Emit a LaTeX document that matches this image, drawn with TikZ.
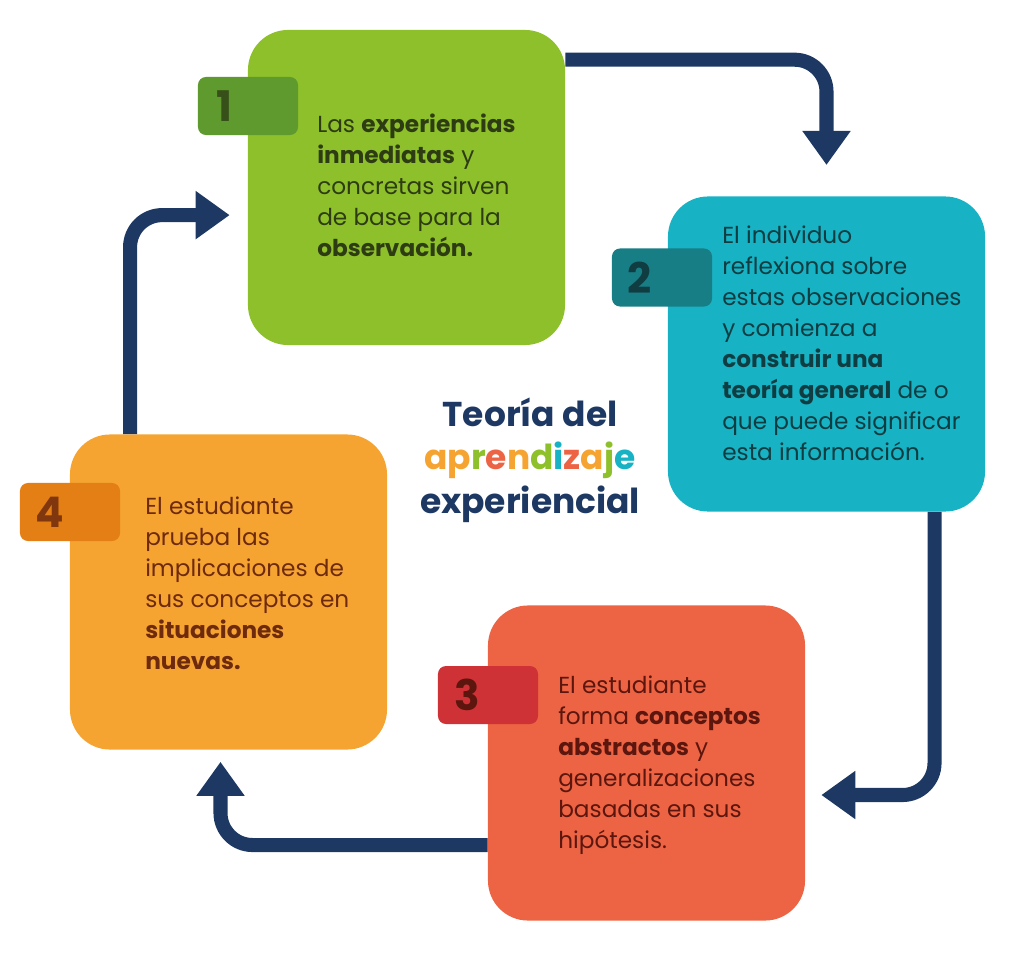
\documentclass[tikz,border=0pt]{standalone}
\usepackage{fontspec}
\setmainfont{Poppins}
\usetikzlibrary{arrows.meta}
\definecolor{navy}{HTML}{1D3862}
\definecolor{cgreen}{HTML}{8DC02A}
\definecolor{cgreenD}{HTML}{5F9A2F}
\definecolor{tgreen}{HTML}{2D3C12}
\definecolor{cteal}{HTML}{17B2C3}
\definecolor{ctealD}{HTML}{187E86}
\definecolor{tteal}{HTML}{0F3D42}
\definecolor{cred}{HTML}{EC6444}
\definecolor{credD}{HTML}{CF3236}
\definecolor{tred}{HTML}{5C160E}
\definecolor{corange}{HTML}{F5A432}
\definecolor{corangeD}{HTML}{E47F15}
\definecolor{torange}{HTML}{6E2A0C}

\begin{document}
\begin{tikzpicture}[x=0.025cm, y=-0.025cm,
        card/.style={rectangle, rounded corners=1cm, minimum width=7.925cm, minimum height=7.875cm, inner sep=0pt},
        badge/.style={rectangle, rounded corners=0.2cm, minimum width=2.5cm, minimum height=1.45cm, inner sep=0pt},
        num/.style={font=\fontsize{30}{30}\selectfont\bfseries, anchor=west},
        txt/.style={anchor=north west, align=left, inner sep=0pt, font=\fontsize{16.5}{22}\selectfont},
        arrow/.style={-{Triangle[width=1.15cm, length=0.85cm]}, line width=10pt, draw=navy, rounded corners=0.8cm}
    ]
        \useasboundingbox (0,0) rectangle (1024,953);
        \node[card, fill=cgreen] (exp) at (406.5,187.5) {};
        \node[card, fill=cteal] (refl) at (826.5,354) {};
        \node[card, fill=cred] (abst) at (646.5,763) {};
        \node[card, fill=corange] (test) at (228.5,592) {};

        \node[badge, fill=cgreenD] (b1) at (248,106) {};
        \node[badge, fill=ctealD] (b2) at (662,277.5) {};
        \node[badge, fill=credD] (b3) at (488,695) {};
        \node[badge, fill=corangeD] (b4) at (70,512) {};
        \node[num, text=tgreen!80!cgreenD] at (212,106) {1};
        \node[num, text=tteal] at (623,277.5) {2};
        \node[num, text=tred] at (450,695) {3};
        \node[num, text=torange!85!corangeD] at (31,512) {4};

        \node[txt, text=tgreen] (t1) at (317,114) {Las \textbf{experiencias}\\\textbf{inmediatas} y\\concretas sirven\\de base para la\\\textbf{observación.}};
        \node[txt, text=tteal] (t2) at (722,226) {El individuo\\reflexiona sobre\\estas observaciones\\y comienza a\\\textbf{construir una}\\\textbf{teoría general} de o\\que puede significar\\esta información.};
        \node[txt, text=tred] (t3) at (558,676) {El estudiante\\forma \textbf{conceptos}\\\textbf{abstractos} y\\generalizaciones\\basadas en sus\\hipótesis.};
        \node[txt, text=torange] (t4) at (145,497) {El estudiante\\prueba las\\implicaciones de\\sus conceptos en\\\textbf{situaciones}\\\textbf{nuevas.}};

        \node[align=center, inner sep=0pt, font=\fontsize{24.5}{31}\selectfont\bfseries] (title) at (530,460)
            {\textcolor{navy}{Teoría del}\\
             \textcolor{corange}{ap}\textcolor{cgreen}{r}\textcolor{cred}{e}\textcolor{corange}{n}\textcolor{cgreen}{d}\textcolor{cteal}{i}\textcolor{cred}{z}\textcolor{corange}{a}\textcolor{cgreen}{j}\textcolor{cteal}{e}\\
             \textcolor{navy}{experiencial}};

        \draw[arrow] ([yshift=-0.75cm]exp.north east) -| ([yshift=0.78cm]refl.north);
        \draw[arrow] ([xshift=2.7cm]refl.south) |- ([xshift=0.4cm, yshift=-0.8cm]abst.east);
        \draw[arrow] ([yshift=-2.05cm]abst.west) -| ([xshift=-0.2cm, yshift=-0.3cm]test.south);
        \draw[arrow] ([xshift=-2.46cm]test.north) |- ([xshift=-0.45cm, yshift=-0.69cm]exp.west);
    \end{tikzpicture}
\end{document}
